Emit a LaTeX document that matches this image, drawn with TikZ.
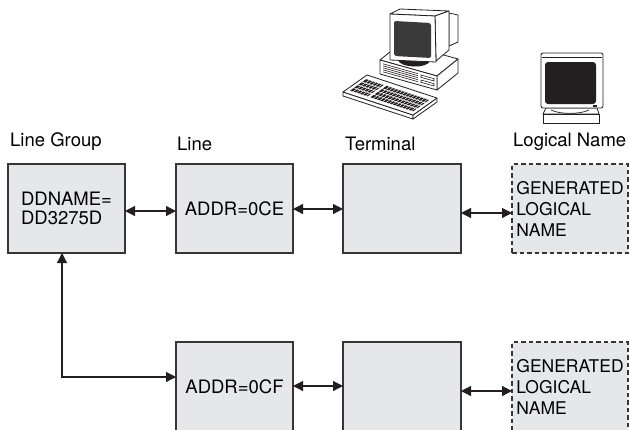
\documentclass[tikz,border=0pt]{standalone}
\usepackage{fontspec}
\setmainfont{TeX Gyre Heros}
\usetikzlibrary{arrows.meta}
\definecolor{boxfill}{HTML}{E6E7E8}
\definecolor{ink}{HTML}{231F20}
\definecolor{crt}{HTML}{3A3A3A}
\newcommand\dgBoxFont{\fontsize{18.5bp}{19.5bp}\selectfont}
\newcommand\dgGenFont{\fontsize{17.5bp}{21bp}\selectfont}
\newcommand\dgLblFont{\fontsize{18.5bp}{22bp}\selectfont}
\begin{document}
\begin{tikzpicture}[x=1bp, y=-1bp,
  box/.style={draw=ink!90, line width=1.1bp, fill=boxfill, minimum width=117bp,
    minimum height=89bp, inner sep=0pt, outer sep=0pt, font=\dgBoxFont, align=left},
  genbox/.style={box, dash pattern=on 4.5bp off 3bp, font=\dgGenFont},
  lbl/.style={anchor=base west, inner sep=0pt, font=\dgLblFont},
  conn/.style={draw=ink, line width=1.2bp,
    {Triangle[length=10bp,width=10bp]}-{Triangle[length=10bp,width=10bp]}},
  icon/.style={draw=ink, line width=0.8bp, fill=white, line join=round},
]
\useasboundingbox (0,0) rectangle (630,429);
\clip (0,0) rectangle (630,429);

% ---------- desktop computer ----------
% system unit
\draw[icon] (380,60) -- (401,43) -- (458,59) -- (437,76) -- cycle;
\draw[icon] (437,76) -- (458,59) -- (458,73) -- (437,90) -- cycle;
\draw[icon] (380,60) -- (437,76) -- (437,90) -- (380,74) -- cycle;
\foreach \o in {3,5,7,9,11}
  \draw[ink, line width=0.6bp] (383,60.8+\o) -- (418,70.7+\o);
\foreach \o in {0,5}
  \draw[ink, line width=0.6bp] (421,75+\o) -- (434,78.7+\o) -- (434,81+\o) -- (421,77.3+\o) -- cycle;
% monitor housing
\draw[icon] (390,14) -- (400,9) -- (449,11) -- (435,16) -- cycle;
\draw[icon] (449,13) -- (458,15) -- (458,42) -- (449,46) -- cycle;
\draw[icon] (435,16) -- (449,11) -- (449,50) -- (436,61) -- cycle;
\fill[ink] (398,60) .. controls (400,68) and (427,69) .. (430,61) -- cycle;
\draw[icon] (390,14) -- (435,16) -- (436,62) -- (390,60) -- cycle;
\fill[crt, rounded corners=2bp] (394,21) -- (431,23) -- (431,58) -- (394,56) -- cycle;
% keyboard
\draw[icon] (343,92) -- (413,115) -- (413,119) -- (343,96) -- cycle;
\draw[icon] (413,115) -- (437,98) -- (437,102) -- (413,119) -- cycle;
\draw[icon] (343,92) -- (367,75) -- (437,98) -- (413,115) -- cycle;
\begin{scope}[shift={(343,92)}, x={(70bp,-23bp)}, y={(24bp,17bp)}]
  \fill[ink] (0.05,0.15) -- (0.30,0.15) -- (0.30,0.82) -- (0.05,0.82) -- cycle;
  \fill[ink] (0.34,0.15) -- (0.95,0.15) -- (0.95,0.82) -- (0.34,0.82) -- cycle;
  \foreach \t in {0.31,0.48,0.65}
    \draw[white, line width=0.6bp] (0.04,\t) -- (0.96,\t);
  \foreach \s in {0.095,0.14,0.185,0.23,0.275,0.385,0.43,0.475,0.52,0.565,0.61,0.655,0.70,0.745,0.79,0.835,0.88,0.925}
    \draw[white, line width=0.5bp] (\s,0.14) -- (\s,0.83);
\end{scope}

% ---------- terminal monitor ----------
\draw[icon] (546,108) -- (597,108) -- (599,114) -- (543,114) -- cycle;
\draw[icon] (543,114) rectangle (599,123);
\draw[ink, line width=0.7bp] (551,110) .. controls (560,114.5) and (580,114.5) .. (589,110);
\draw[icon, rounded corners=2bp] (541,53) rectangle (603,108);
\draw[ink, line width=0.5bp] (542,57.5) -- (602,57.5);
\fill[ink, rounded corners=3bp] (545,62) rectangle (596,104);
\fill[ink] (593,105) rectangle (597,107);

% ---------- column headings ----------
\node[lbl] (hGroup) at (10,146) {Line Group};
\node[lbl] (hLine)  at (177,150) {Line};
\node[lbl] (hTerm)  at (345,150) {Terminal};
\node[lbl] (hName)  at (513,146) {Logical Name};

% ---------- boxes ----------
\node[box] (lg)    at (66.5,208.5) {DDNAME=\\DD3275D};
\node[box] (lineA) at (234.5,208.5) {ADDR=0CE};
\node[box, minimum width=118bp] (termA) at (402,208.5) {};
\node[genbox, minimum width=116bp] (nameA) at (570,208.5) {GENERATED\\LOGICAL\\NAME};

\node[box] (lineB) at (234.5,386.5) {ADDR=0CF};
\node[box, minimum width=118bp] (termB) at (402,386.5) {};
\node[genbox, minimum width=116bp] (nameB) at (570,386.5) {GENERATED\\LOGICAL\\NAME};

% ---------- connectors ----------
\draw[conn] ([yshift=-2.5bp]lg.east) -- ([yshift=-2.5bp]lineA.west);
\draw[conn] ([yshift=-0.5bp]lineA.east) -- ([yshift=-0.5bp]termA.west);
\draw[conn] ([yshift=-4.5bp]termA.east) -- ([yshift=-4.5bp]nameA.west);
\draw[conn] ([xshift=-4.5bp]lg.south) |- ([yshift=9.5bp]lineB.west);
\draw[conn] ([yshift=0.5bp]lineB.east) -- ([yshift=0.5bp]termB.west);
\draw[conn] ([yshift=-4.5bp]termB.east) -- ([yshift=-4.5bp]nameB.west);
\end{tikzpicture}
\end{document}
